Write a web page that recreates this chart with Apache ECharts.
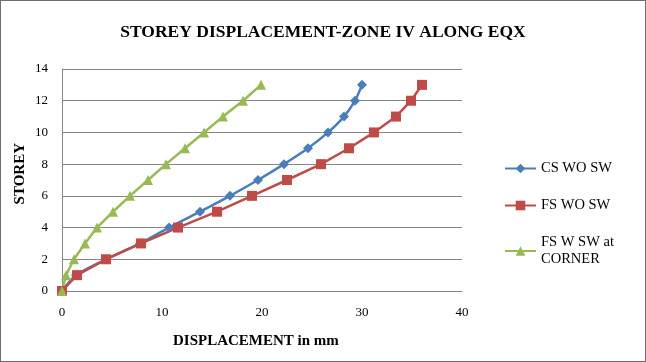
<!DOCTYPE html>
<html><head><meta charset="utf-8">
<script src="https://cdn.jsdelivr.net/npm/echarts@6/dist/echarts.min.js"></script>
<style>
html,body{margin:0;padding:0;background:#fff;}
#c{position:absolute;left:0;top:0;width:644px;height:360px;border:1px solid #6f6f6f;}
</style></head><body>
<div id="c"></div>
<script>
const storeys = [0,1,2,3,4,5,6,7,8,9,10,11,12,13];
const csWoSw = [0,1.4,4.4,7.8,10.7,13.8,16.8,19.6,22.2,24.6,26.6,28.2,29.3,30.0];
const fsWoSw = [0,1.5,4.4,7.9,11.6,15.5,19.0,22.5,25.9,28.7,31.2,33.4,34.9,36.0];
const fsWSwCorner = [0,0.4,1.2,2.3,3.5,5.1,6.8,8.6,10.4,12.3,14.2,16.1,18.1,19.9];
const seriesNames = ['CS WO SW','FS WO SW','FS W SW at CORNER'];
const xTicks = {min:0,max:40,interval:10};
const yTicks = {min:0,max:14,interval:2};
const xTitle = 'DISPLACEMENT in mm';
const yTitle = 'STOREY';

const font = '"Liberation Serif","Times New Roman",serif';
function pts(xs){ return xs.map((x,i)=>[x,storeys[i]]); }

const chart = echarts.init(document.getElementById('c'));
chart.setOption({
  animation:false,
  textStyle:{fontFamily:font,color:'#000'},
  title:{text:'STOREY DISPLACEMENT-ZONE IV ALONG EQX',left:'center',top:17,
    textStyle:{fontFamily:font,fontSize:17.5,fontWeight:'bold',color:'#000'}},
  grid:{left:61,top:68,width:400,height:222},
  legend:{orient:'vertical',left:498,top:154,itemWidth:31,itemHeight:12,itemGap:20,
    data:seriesNames,
    textStyle:{fontFamily:font,fontSize:14.5,color:'#000',lineHeight:17},
    formatter:function(n){return n==='FS W SW at CORNER'?'FS W SW at\nCORNER':n;}},
  graphic:[
    {type:'text',left:172,top:333,style:{text:xTitle,font:'bold 15px '+font,fill:'#000'}},
    {type:'text',left:12,top:142,rotation:Math.PI/2,
      style:{text:yTitle,font:'bold 15px '+font,fill:'#000'}}
  ],
  xAxis:{type:'value',min:xTicks.min,max:xTicks.max,interval:xTicks.interval,
    axisLine:{show:true,lineStyle:{color:'#868686'}},axisTick:{show:false},
    axisLabel:{fontFamily:font,fontSize:13,color:'#000',margin:15},
    splitLine:{show:false}},
  yAxis:{type:'value',min:yTicks.min,max:yTicks.max,interval:yTicks.interval,
    axisLine:{show:true,lineStyle:{color:'#868686'}},axisTick:{show:false},
    axisLabel:{fontFamily:font,fontSize:13,color:'#000',margin:14},
    splitLine:{show:true,lineStyle:{color:'#868686'}}},
  series:[
    {name:seriesNames[0],type:'line',data:pts(csWoSw),smooth:0.3,symbol:'diamond',symbolSize:10,
      itemStyle:{color:'#4A7EBB'},lineStyle:{color:'#4A7EBB',width:2.5}},
    {name:seriesNames[1],type:'line',data:pts(fsWoSw),symbol:'rect',symbolSize:10,
      itemStyle:{color:'#BE4B48'},lineStyle:{color:'#BE4B48',width:2.5}},
    {name:seriesNames[2],type:'line',data:pts(fsWSwCorner),symbol:'triangle',symbolSize:10,
      itemStyle:{color:'#98B954'},lineStyle:{color:'#98B954',width:2.5}}
  ]
});
</script></body></html>
